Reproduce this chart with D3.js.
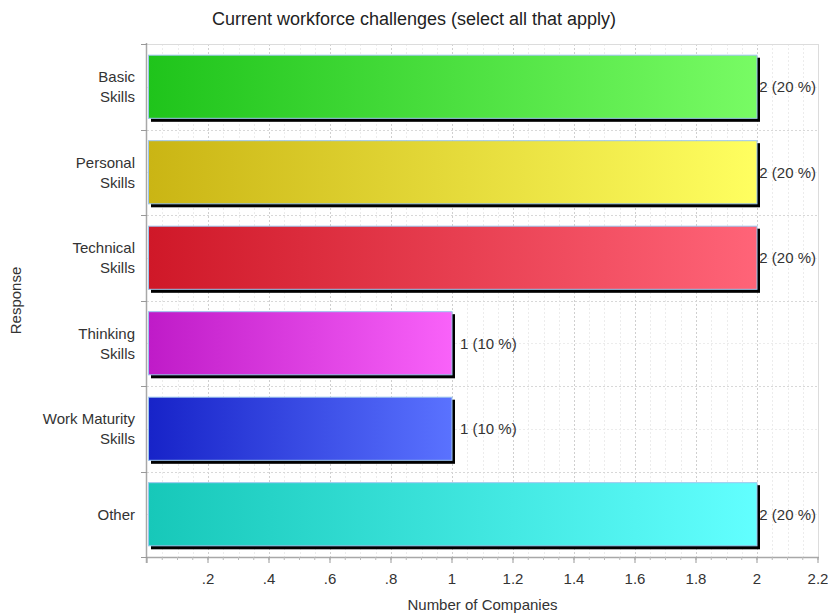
<!DOCTYPE html>
<html><head><meta charset="utf-8">
<script src="https://cdn.jsdelivr.net/npm/d3@7"></script>
<style>body{margin:0;background:#fff;} svg{display:block;font-family:"Liberation Sans",Arial,sans-serif;}</style>
</head><body><svg id="c" width="828" height="614"></svg>
<script>
const categories = [["Basic","Skills"],["Personal","Skills"],["Technical","Skills"],["Thinking","Skills"],["Work Maturity","Skills"],["Other"]];
const values = [2, 2, 2, 1, 1, 2];
const percents = [20, 20, 20, 10, 10, 20];
const colorsLeft = ["#1fc41b","#cab514","#cf1828","#bf1bc8","#1723c8","#17c8b9"];
const colorsRight = ["#78fb64","#ffff60","#ff6478","#f962f9","#5a72ff","#62ffff"];
const xTicks = [0.2,0.4,0.6,0.8,1,1.2,1.4,1.6,1.8,2,2.2];
const xTickLabels = [".2",".4",".6",".8","1","1.2","1.4","1.6","1.8","2","2.2"];

const svg = d3.select("#c");
const L = 147, R = 818, T = 44, B = 557;
const FS = 15;
const x = d3.scaleLinear().domain([0, 2.2]).range([L, R]);
const y = d3.scaleBand().domain(d3.range(categories.length)).range([T, B]).paddingInner(0.25).paddingOuter(0.125);
const step = y.step();

const defs = svg.append("defs");
categories.forEach((c,i)=>{
  const g = defs.append("linearGradient").attr("id","g"+i).attr("x1","0").attr("x2","1").attr("y1","0").attr("y2","0");
  g.append("stop").attr("offset","0").attr("stop-color",colorsLeft[i]);
  g.append("stop").attr("offset","1").attr("stop-color",colorsRight[i]);
});

// grid
const minor = d3.range(0.05, 2.2001, 0.05).map(v=>+v.toFixed(2));
svg.append("g").selectAll("line").data(minor).join("line")
  .attr("x1",d=>Math.round(x(d))+0.5).attr("x2",d=>Math.round(x(d))+0.5).attr("y1",T).attr("y2",B)
  .attr("stroke", d=>Math.abs(d*5-Math.round(d*5))<1e-6 ? "#cfcfcf" : "#ececec")
  .attr("stroke-dasharray","2,2").attr("stroke-width",1);
const hgrid = [];
for (let i=0;i<=categories.length*2;i++) hgrid.push(T + i*step/2);
svg.append("g").selectAll("line").data(hgrid).join("line")
  .attr("x1",L).attr("x2",R).attr("y1",d=>Math.round(d)+0.5).attr("y2",d=>Math.round(d)+0.5)
  .attr("stroke",(d,i)=> i%2===0 ? "#d8d8d8" : "#ececec").attr("stroke-dasharray","2,2");

// frame
svg.append("line").attr("x1",L).attr("x2",R).attr("y1",T+0.5).attr("y2",T+0.5).attr("stroke","#dcdcdc");
svg.append("line").attr("x1",R+0.5).attr("x2",R+0.5).attr("y1",T).attr("y2",B).attr("stroke","#dcdcdc");

// bars
const bars = svg.append("g");
values.forEach((v,i)=>{
  const y0 = y(i), h = y.bandwidth();
  bars.append("rect").attr("x",L+4).attr("y",y0+3).attr("width",x(v)-L-1).attr("height",h).attr("fill","#000");
  bars.append("rect").attr("x",L+1.5).attr("y",y0+0.5).attr("width",x(v)-L-1.5).attr("height",h-1)
    .attr("fill","url(#g"+i+")").attr("stroke","#9cc6ee").attr("stroke-width",1);
});

// value labels
const lbl = svg.append("g").attr("font-size",FS).attr("fill","#333");
values.forEach((v,i)=>{
  const t = lbl.append("text").attr("y",y(i)+y.bandwidth()/2).attr("dy","0.35em").text(v+" ("+percents[i]+" %)");
  const w = t.node().getComputedTextLength();
  t.attr("x", Math.min(x(v)+8, R - w - 2));
});

// axes
const xAxis = svg.append("g");
xAxis.append("line").attr("x1",L).attr("x2",R+1).attr("y1",B+0.5).attr("y2",B+0.5).attr("stroke","#a8a8a8").attr("stroke-width",1.5);
xAxis.selectAll("line.mn").data(minor).join("line").attr("class","mn")
  .attr("x1",d=>x(d)).attr("x2",d=>x(d)).attr("y1",B).attr("y2",B+3).attr("stroke","#bbb");
xAxis.selectAll("line.mj").data([0].concat(xTicks)).join("line").attr("class","mj")
  .attr("x1",d=>x(d)).attr("x2",d=>x(d)).attr("y1",B).attr("y2",B+6).attr("stroke","#999");
xAxis.selectAll("text").data(xTicks).join("text")
  .attr("x",d=>x(d)).attr("y",B+27).attr("text-anchor","middle").attr("font-size",FS).attr("fill","#333")
  .text((d,i)=>xTickLabels[i]);

const yAxis = svg.append("g");
yAxis.append("line").attr("x1",L-0.5).attr("x2",L-0.5).attr("y1",T-1).attr("y2",B+6).attr("stroke","#a8a8a8").attr("stroke-width",1.5);
yAxis.selectAll("line.t").data(d3.range(categories.length+1)).join("line").attr("class","t")
  .attr("x1",L-6).attr("x2",L).attr("y1",d=>Math.round(T+d*step)+0.5).attr("y2",d=>Math.round(T+d*step)+0.5).attr("stroke","#999");
categories.forEach((c,i)=>{
  const cy = y(i)+y.bandwidth()/2;
  const t = yAxis.append("text").attr("x",L-12).attr("text-anchor","end").attr("font-size",FS).attr("fill","#333");
  c.forEach((ln,j)=>{
    t.append("tspan").attr("x",L-12).attr("y", cy + (j-(c.length-1)/2)*20).attr("dy","0.35em").text(ln);
  });
});

// titles
svg.append("text").attr("x",414).attr("y",25).attr("text-anchor","middle").attr("font-size",18).attr("fill","#222")
  .text("Current workforce challenges (select all that apply)");
svg.append("text").attr("x",(L+R)/2).attr("y",610).attr("text-anchor","middle").attr("font-size",FS).attr("fill","#333")
  .text("Number of Companies");
svg.append("text").attr("transform","translate(21,"+((T+B)/2)+") rotate(-90)").attr("text-anchor","middle").attr("font-size",FS).attr("fill","#333")
  .text("Response");
</script></body></html>
